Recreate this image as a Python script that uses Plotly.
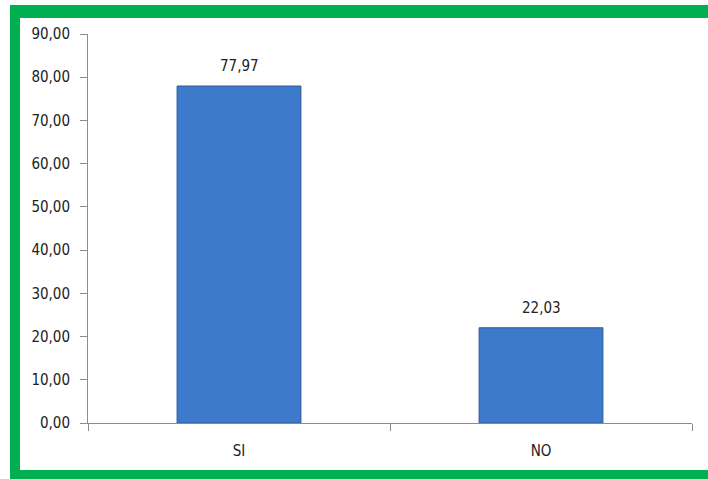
import plotly.graph_objects as go

# Survey answers (percent)
categories = ["SI", "NO"]
values = [77.97, 22.03]
y_ticks = [0, 10, 20, 30, 40, 50, 60, 70, 80, 90]

W, H = 708, 479
L, R, T, B = 88, 16, 34, 56
plot_w = W - L - R
plot_h = H - T - B


def px_x(p):
    return (p - L) / plot_w


def px_y(p):
    return (H - B - p) / plot_h


fig = go.Figure()
fig.add_trace(go.Bar(
    x=categories,
    y=values,
    marker=dict(color="#3e7acb", line=dict(color="#2d5a96", width=1)),
    hoverinfo="skip",
))

label_font = dict(family="DejaVu Sans Condensed, DejaVu Sans", size=15, color="#222222")
for c, v in zip(categories, values):
    fig.add_annotation(
        x=c, y=v, text=f"{v:.2f}".replace(".", ","),
        showarrow=False, yanchor="bottom", yshift=9, font=label_font,
    )

green = "#00b050"
# Frame: left, top and bottom stripes
fig.add_shape(type="rect", xref="paper", yref="paper",
              x0=px_x(10), x1=px_x(20), y0=px_y(485), y1=px_y(5),
              fillcolor=green, line=dict(width=0), layer="above")
fig.add_shape(type="rect", xref="paper", yref="paper",
              x0=px_x(10), x1=px_x(720), y0=px_y(18), y1=px_y(5),
              fillcolor=green, line=dict(width=0), layer="above")
fig.add_shape(type="rect", xref="paper", yref="paper",
              x0=px_x(10), x1=px_x(720), y0=px_y(485), y1=px_y(470),
              fillcolor=green, line=dict(width=0), layer="above")

fig.update_layout(
    width=W, height=H,
    margin=dict(l=L, r=R, t=T, b=B),
    paper_bgcolor="white",
    plot_bgcolor="white",
    separators=",.",
    bargap=0.59,
    showlegend=False,
    font=label_font,
)
fig.update_xaxes(
    showline=True, linecolor="#8c8c8c", linewidth=1,
    ticks="outside", tickson="boundaries", ticklen=7, tickcolor="#8c8c8c",
    ticklabelstandoff=14, showgrid=False, tickfont=label_font,
)
fig.update_yaxes(
    range=[0, 90], tickvals=y_ticks, tickformat=".2f",
    showline=True, linecolor="#8c8c8c", linewidth=1,
    ticks="outside", ticklen=7, tickcolor="#8c8c8c",
    ticklabelstandoff=7, showgrid=False, zeroline=False,
    tickfont=label_font,
)

fig.write_html("out.html")
